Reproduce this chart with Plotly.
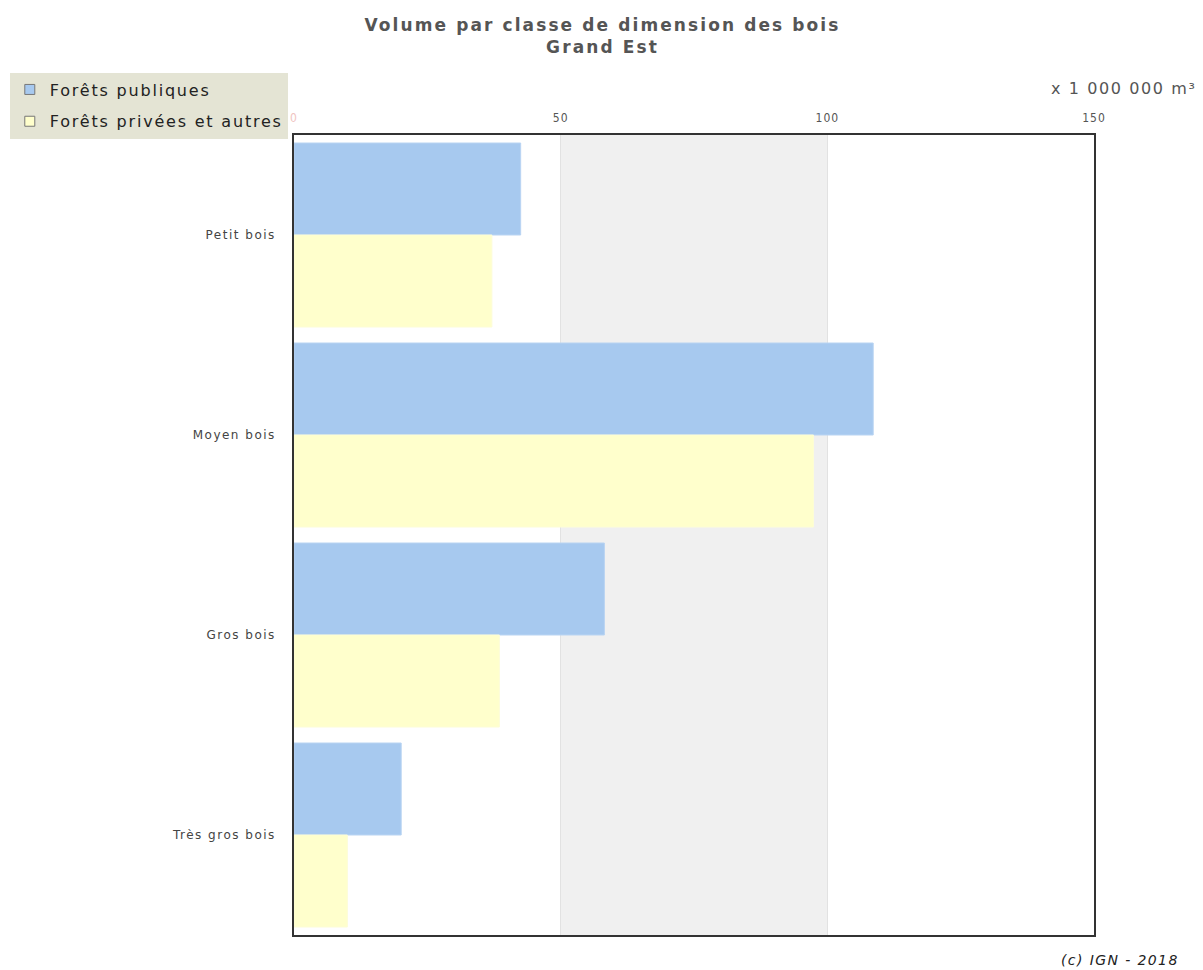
import plotly.graph_objects as go

categories = ["Petit bois", "Moyen bois", "Gros bois", "Très gros bois"]
publiques = [42.5, 108.6, 58.2, 20.1]
privees = [37.1, 97.4, 38.5, 10.0]
tick_vals = [0, 50, 100, 150]
tick_labels = ["0", "50", "100", "150"]

# page body has an 8px margin, so the figure is drawn 8px right/down
OFF = 8
W, H = 1203 - OFF, 970 - OFF
L, R, T, B = 293.5 - OFF, 108.7, 134.5 - OFF, 35
PW, PH = W - L - R, H - T - B


def px(x):
    return (x - OFF - L) / PW


def py(y):
    return (H - B - (y - OFF)) / PH


def sp(text, ls, color=None):
    style = "letter-spacing:%spx" % ls
    if color:
        style += ";color:%s" % color
    return "<span style='%s'>%s</span>" % (style, text)


fig = go.Figure()
fig.add_trace(go.Bar(y=categories, x=publiques, orientation="h", name="Forêts publiques",
                     showlegend=False,
                     marker=dict(color="#a7c9ef", line=dict(color="#b9d4f2", width=1))))
fig.add_trace(go.Bar(y=categories, x=privees, orientation="h", name="Forêts privées et autres",
                     showlegend=False,
                     marker=dict(color="#ffffcc", line=dict(color="#fdfdd6", width=1))))
# legend entries
fig.add_trace(go.Scatter(x=[None], y=[None], mode="markers", name=sp("Forêts publiques", 1.8),
                         legendgroup="a",
                         marker=dict(symbol="square", size=10, color="#a7c9ef",
                                     line=dict(color="#777", width=1))))
fig.add_trace(go.Scatter(x=[None], y=[None], mode="markers", name=sp("Forêts privées et autres", 1.8),
                         legendgroup="b",
                         marker=dict(symbol="square", size=10, color="#ffffcc",
                                     line=dict(color="#777", width=1))))

fig.add_shape(type="rect", xref="x", yref="paper", x0=50, x1=100, y0=0, y1=1,
              fillcolor="#f0f0f0", line=dict(width=0), layer="below")

fig.update_layout(
    width=W, height=H,
    margin=dict(l=L, r=R, t=T, b=B, pad=0, autoexpand=False),
    paper_bgcolor="white", plot_bgcolor="white",
    barmode="group", bargap=0.08, bargroupgap=0,
    font=dict(family="DejaVu Sans", color="#444"),
    title=dict(text="<b>" + sp("Volume par classe de dimension des bois", 2.1) + "<br>"
                    + sp("Grand Est", 2.1) + "</b>",
               x=0.5 - 3 / W, xanchor="center", y=1 - 22.5 / H, yanchor="top",
               font=dict(size=17, color="#555", family="DejaVu Sans")),
    legend=dict(x=px(9), y=py(72),
                xanchor="left", yanchor="top", bgcolor="#e4e4d4",
                font=dict(size=16, color="#222", family="DejaVu Sans"),
                traceorder="grouped", borderwidth=0, tracegroupgap=8),
    xaxis=dict(side="top", range=[0, 150], tickvals=tick_vals,
               ticktext=[sp(t, 1, "#f0c4bf" if t == "0" else None) for t in tick_labels],
               tickfont=dict(size=12, color="#555", family="DejaVu Sans Condensed"),
               showgrid=True, gridcolor="#e2e2e2", gridwidth=1, zeroline=False,
               showline=True, linecolor="#333", linewidth=1.5, mirror=True,
               ticks="", ticklabelstandoff=6, fixedrange=True),
    yaxis=dict(autorange="reversed", tickvals=categories,
               ticktext=[sp(c, 1.5) for c in categories],
               tickfont=dict(size=12, color="#444", family="DejaVu Sans"),
               showline=True, linecolor="#333", linewidth=1.5, mirror=True,
               showgrid=False, ticks="", ticklabelstandoff=14),
)
fig.add_annotation(text=sp("x 1 000 000 m³", 1.6), xref="paper", yref="paper",
                   x=px(1198), y=py(88), xanchor="right", yanchor="middle",
                   showarrow=False, font=dict(size=16, color="#555", family="DejaVu Sans"))
fig.add_annotation(text="<i>" + sp("(c) IGN - 2018", 1.4) + "</i>", xref="paper", yref="paper",
                   x=px(1181), y=py(960), xanchor="right", yanchor="middle",
                   showarrow=False, font=dict(size=14, color="#222", family="DejaVu Sans"))

fig.write_html("out.html")
